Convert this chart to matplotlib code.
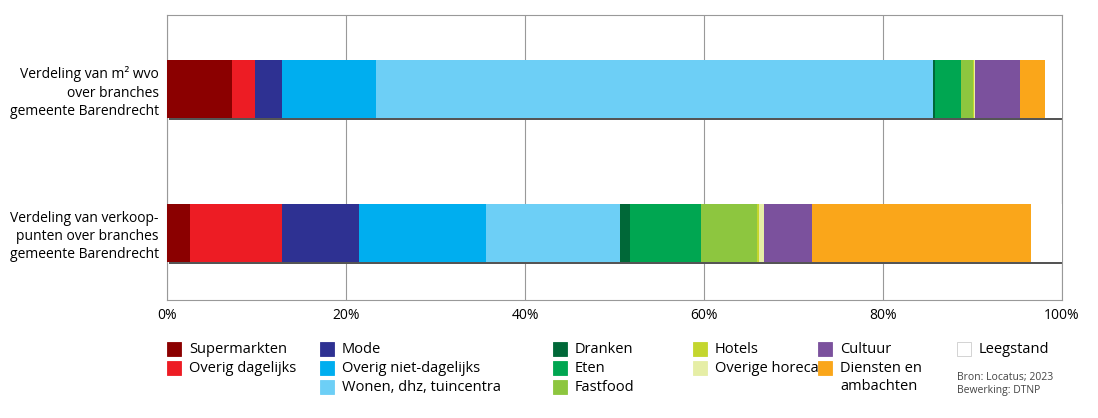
import matplotlib.pyplot as plt
from matplotlib.patches import Rectangle

categories = ['Supermarkten', 'Overig dagelijks', 'Mode', 'Overig niet-dagelijks',
              'Wonen, dhz, tuincentra', 'Dranken', 'Eten', 'Fastfood', 'Hotels',
              'Overige horeca', 'Cultuur', 'Diensten en\nambachten', 'Leegstand']
colors = ['#8b0000', '#ed1c24', '#2e3192', '#00aeef', '#6dcff6', '#006838',
          '#00a651', '#8dc63f', '#c4d62e', '#e6eea6', '#7b519d', '#faa61a', '#ffffff']
rows = ['Verdeling van m² wvo\nover branches\ngemeente Barendrecht',
        'Verdeling van verkoop-\npunten over branches\ngemeente Barendrecht']
m2_wvo = [7.3, 2.5, 3.1, 10.5, 62.2, 0.2, 2.9, 1.3, 0.2, 0.1, 5.0, 2.8, 1.9]
verkooppunten = [2.6, 10.2, 8.6, 14.2, 15.0, 1.1, 8.0, 6.2, 0.3, 0.5, 5.4, 24.4, 3.5]

plt.rcParams['font.family'] = 'Open Sans'
fig = plt.figure(figsize=(10.98, 4.18), dpi=100)
ax = fig.add_axes([167/1098, 1-300/418, 895/1098, 285/418])

for y, vals in [(1, m2_wvo), (0, verkooppunten)]:
    left = 0
    # shadow
    ax.barh(y - 0.015, 100.4, left=0.2, height=0.4, color='#555555', zorder=2)
    for v, c in zip(vals, colors):
        ax.barh(y, v, left=left, height=0.4, color=c, zorder=3)
        left += v

ax.set_xlim(0, 100)
ax.set_ylim(-0.465, 1.514)
ax.set_xticks(range(0, 101, 20))
ax.set_xticklabels(['0%', '20%', '40%', '60%', '80%', '100%'], fontsize=10)
ax.set_yticks([1, 0])
ax.set_yticklabels(rows, fontsize=10, linespacing=1.3)
ax.tick_params(length=0, pad=6)
ax.grid(axis='x', color='#999999', lw=0.8, zorder=0)
for s in ax.spines.values():
    s.set_color('#999999')

# legend
cols_x = [167, 320, 553, 693, 818, 957]
layout = [(0, 0, 0), (1, 0, 1), (2, 1, 0), (3, 1, 1), (4, 1, 2), (5, 2, 0), (6, 2, 1),
          (7, 2, 2), (8, 3, 0), (9, 3, 1), (10, 4, 0), (11, 4, 1), (12, 5, 0)]
for i, cx, r in layout:
    x = cols_x[cx] / 1098
    y = 1 - (349 + r * 19) / 418
    fig.patches.append(Rectangle((x, y - 7/418), 14/1098, 14/418, transform=fig.transFigure,
                                 facecolor=colors[i], edgecolor='#cccccc' if i == 12 else colors[i], lw=0.6))
    fig.text(x + 22/1098, y + 7/418, categories[i], fontsize=10.5, va='top', linespacing=1.25)
fig.text(957/1098, 1 - 372/418, 'Bron: Locatus; 2023\nBewerking: DTNP', fontsize=7.5,
         va='top', color='#444444')

fig.savefig('out.png', dpi=100)
